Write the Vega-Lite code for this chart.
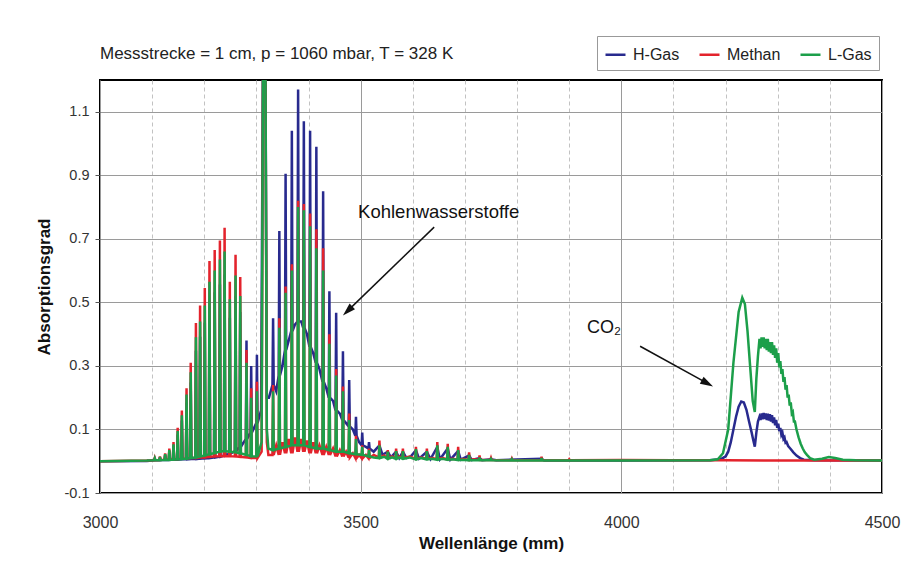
{
  "$schema": "https://vega.github.io/schema/vega-lite/v6.json",
  "width": 782,
  "height": 413,
  "autosize": {"type": "none"},
  "padding": {"left": 100, "top": 80, "right": 41, "bottom": 92},
  "background": "white",
  "config": {
    "font": "Liberation Sans",
    "view": {"stroke": "#000", "strokeWidth": 2}
  },
  "title": {
    "text": "Messstrecke = 1 cm, p = 1060 mbar, T = 328 K",
    "anchor": "start",
    "frame": "group",
    "offset": -40,
    "baseline": "alphabetic",
    "fontSize": 17,
    "fontWeight": "normal",
    "color": "#222"
  },
  "datasets": {
    "hgas": [
      {"x":3000,"y":0},{"x":3090,"y":0.001},
      {"x":3103.8,"y":0.003},{"x":3105,"y":0.008},{"x":3106.2,"y":0.003},
      {"x":3113.8,"y":0.003},{"x":3115,"y":0.012},{"x":3116.2,"y":0.003},
      {"x":3123.8,"y":0.004},{"x":3125,"y":0.02},{"x":3126.2,"y":0.004},
      {"x":3131.8,"y":0.004},{"x":3133,"y":0.032},{"x":3134.2,"y":0.004},
      {"x":3139.8,"y":0.005},{"x":3141,"y":0.048},{"x":3142.2,"y":0.005},
      {"x":3147.8,"y":0.005},{"x":3149,"y":0.084},{"x":3150.2,"y":0.005},
      {"x":3155.8,"y":0.006},{"x":3157,"y":0.128},{"x":3158.2,"y":0.006},
      {"x":3164.8,"y":0.006},{"x":3166,"y":0.184},{"x":3167.2,"y":0.006},
      {"x":3172.8,"y":0.007},{"x":3174,"y":0.248},{"x":3175.2,"y":0.007},
      {"x":3182.8,"y":0.007},{"x":3184,"y":0.348},{"x":3185.2,"y":0.007},
      {"x":3190.8,"y":0.008},{"x":3192,"y":0.392},{"x":3193.2,"y":0.008},
      {"x":3199.8,"y":0.009},{"x":3201,"y":0.436},{"x":3202.2,"y":0.009},
      {"x":3208.8,"y":0.01},{"x":3210,"y":0.504},{"x":3211.2,"y":0.01},
      {"x":3218.8,"y":0.012},{"x":3220,"y":0.532},{"x":3221.2,"y":0.012},
      {"x":3228.8,"y":0.014},{"x":3230,"y":0.556},{"x":3231.2,"y":0.014},
      {"x":3237.8,"y":0.018},{"x":3239,"y":0.588},{"x":3240.2,"y":0.018},
      {"x":3247.8,"y":0.024},{"x":3249,"y":0.452},{"x":3250.2,"y":0.024},
      {"x":3258.8,"y":0.032},{"x":3260,"y":0.52},{"x":3261.2,"y":0.032},
      {"x":3267.8,"y":0.045},{"x":3269,"y":0.47},{"x":3270.2,"y":0.045},
      {"x":3279.8,"y":0.07},{"x":3281,"y":0.38},{"x":3282.2,"y":0.07},
      {"x":3288.8,"y":0.09},{"x":3290,"y":0.3},{"x":3291.2,"y":0.09},
      {"x":3299.8,"y":0.12},{"x":3301,"y":0.335},{"x":3302.2,"y":0.12},
      {"x":3309,"y":0.16},{"x":3313,"y":1.4},{"x":3317,"y":1.4},{"x":3320,"y":0.2},{"x":3324,"y":0.2},
      {"x":3330.8,"y":0.24},{"x":3332,"y":0.45},{"x":3333.2,"y":0.24},{"x":3338,"y":0.22},
      {"x":3342.8,"y":0.27},{"x":3344,"y":0.725},{"x":3345.2,"y":0.27},{"x":3350,"y":0.3},
      {"x":3354.8,"y":0.35},{"x":3356,"y":0.905},{"x":3357.2,"y":0.35},{"x":3362,"y":0.38},
      {"x":3366.8,"y":0.41},{"x":3368,"y":1.04},{"x":3369.2,"y":0.41},{"x":3374,"y":0.43},
      {"x":3378.8,"y":0.44},{"x":3380,"y":1.17},{"x":3381.2,"y":0.44},{"x":3386,"y":0.44},
      {"x":3389.8,"y":0.42},{"x":3391,"y":1.07},{"x":3392.2,"y":0.42},{"x":3397,"y":0.4},
      {"x":3401.8,"y":0.36},{"x":3403,"y":1.04},{"x":3404.2,"y":0.36},{"x":3409,"y":0.34},
      {"x":3413.8,"y":0.31},{"x":3415,"y":0.99},{"x":3416.2,"y":0.31},{"x":3421,"y":0.29},
      {"x":3426.8,"y":0.25},{"x":3428,"y":0.85},{"x":3429.2,"y":0.25},{"x":3434,"y":0.23},
      {"x":3438.8,"y":0.2},{"x":3440,"y":0.535},{"x":3441.2,"y":0.2},{"x":3447,"y":0.19},
      {"x":3451.8,"y":0.16},{"x":3453,"y":0.467},{"x":3454.2,"y":0.16},{"x":3460,"y":0.15},
      {"x":3464.8,"y":0.13},{"x":3466,"y":0.346},{"x":3467.2,"y":0.13},{"x":3472,"y":0.12},
      {"x":3476.8,"y":0.11},{"x":3478,"y":0.256},{"x":3479.2,"y":0.11},{"x":3485,"y":0.1},
      {"x":3489.8,"y":0.08},{"x":3491,"y":0.14},{"x":3492.2,"y":0.08},{"x":3497,"y":0.06},
      {"x":3501.8,"y":0.05},{"x":3503,"y":0.09},{"x":3504.2,"y":0.05},{"x":3510,"y":0.045},
      {"x":3514.8,"y":0.04},{"x":3516,"y":0.06},{"x":3517.2,"y":0.04},{"x":3525,"y":0.03},
      {"x":3536,"y":0.05},{"x":3542,"y":0.02},{"x":3552,"y":0.03},{"x":3558,"y":0.012},{"x":3568,"y":0.03},{"x":3574,"y":0.01},{"x":3581,"y":0.03},{"x":3588,"y":0.01},{"x":3596,"y":0.015},{"x":3606,"y":0.035},{"x":3612,"y":0.008},{"x":3627,"y":0.03},{"x":3634,"y":0.007},{"x":3647,"y":0.045},{"x":3652,"y":0.006},{"x":3667,"y":0.04},{"x":3672,"y":0.005},{"x":3687,"y":0.032},{"x":3692,"y":0.005},{"x":3708,"y":0.018},{"x":3713,"y":0.004},{"x":3728,"y":0.01},{"x":3733,"y":0.003},{"x":3750,"y":0.006},{"x":3760,"y":0.003},{"x":3847,"y":0.008},{"x":3852,"y":0.002},{"x":4000,"y":0.002},{"x":4170,"y":0.003},
      {"x":4190,"y":0.006},{"x":4200,"y":0.015},{"x":4205,"y":0.03},{"x":4210,"y":0.06},{"x":4215,"y":0.1},{"x":4220,"y":0.14},{"x":4225,"y":0.172},{"x":4230,"y":0.188},{"x":4235,"y":0.185},{"x":4240,"y":0.162},{"x":4245,"y":0.125},{"x":4250,"y":0.09},{"x":4253,"y":0.067},{"x":4256,"y":0.046},{"x":4259,"y":0.09},{"x":4262,"y":0.125},{"x":4265,"y":0.14},{"x":4267,"y":0.13},{"x":4269,"y":0.15},{"x":4271,"y":0.132},{"x":4273,"y":0.152},{"x":4275,"y":0.133},{"x":4277,"y":0.15},{"x":4279,"y":0.13},{"x":4281,"y":0.15},{"x":4283,"y":0.128},{"x":4285,"y":0.148},{"x":4287,"y":0.125},{"x":4289,"y":0.145},{"x":4291,"y":0.12},{"x":4293,"y":0.138},{"x":4295,"y":0.113},{"x":4297,"y":0.13},{"x":4299,"y":0.105},{"x":4301,"y":0.118},{"x":4303,"y":0.095},{"x":4305,"y":0.105},{"x":4307,"y":0.083},{"x":4309,"y":0.09},{"x":4311,"y":0.07},{"x":4313,"y":0.075},{"x":4315,"y":0.058},{"x":4317,"y":0.06},{"x":4320,"y":0.048},{"x":4324,"y":0.04},{"x":4330,"y":0.028},{"x":4336,"y":0.018},{"x":4343,"y":0.01},{"x":4350,"y":0.005},{"x":4370,"y":0.003},{"x":4500,"y":0.002}
    ],
    "methan": [
      {"x":3000,"y":0},{"x":3090,"y":0.002},
      {"x":3103.8,"y":0.003},{"x":3105,"y":0.01},{"x":3106.2,"y":0.003},
      {"x":3113.8,"y":0.004},{"x":3115,"y":0.015},{"x":3116.2,"y":0.004},
      {"x":3123.8,"y":0.005},{"x":3125,"y":0.025},{"x":3126.2,"y":0.005},
      {"x":3131.8,"y":0.005},{"x":3133,"y":0.04},{"x":3134.2,"y":0.005},
      {"x":3139.8,"y":0.006},{"x":3141,"y":0.06},{"x":3142.2,"y":0.006},
      {"x":3147.8,"y":0.007},{"x":3149,"y":0.105},{"x":3150.2,"y":0.007},
      {"x":3155.8,"y":0.008},{"x":3157,"y":0.16},{"x":3158.2,"y":0.008},
      {"x":3164.8,"y":0.009},{"x":3166,"y":0.23},{"x":3167.2,"y":0.009},
      {"x":3172.8,"y":0.01},{"x":3174,"y":0.31},{"x":3175.2,"y":0.01},
      {"x":3182.8,"y":0.01},{"x":3184,"y":0.435},{"x":3185.2,"y":0.01},
      {"x":3190.8,"y":0.012},{"x":3192,"y":0.49},{"x":3193.2,"y":0.012},
      {"x":3199.8,"y":0.012},{"x":3201,"y":0.545},{"x":3202.2,"y":0.012},
      {"x":3208.8,"y":0.014},{"x":3210,"y":0.63},{"x":3211.2,"y":0.014},
      {"x":3218.8,"y":0.015},{"x":3220,"y":0.665},{"x":3221.2,"y":0.015},
      {"x":3228.8,"y":0.016},{"x":3230,"y":0.695},{"x":3231.2,"y":0.016},
      {"x":3237.8,"y":0.016},{"x":3239,"y":0.735},{"x":3240.2,"y":0.016},
      {"x":3247.8,"y":0.016},{"x":3249,"y":0.565},{"x":3250.2,"y":0.016},
      {"x":3258.8,"y":0.015},{"x":3260,"y":0.65},{"x":3261.2,"y":0.015},
      {"x":3267.8,"y":0.014},{"x":3269,"y":0.58},{"x":3270.2,"y":0.014},
      {"x":3279.8,"y":0.012},{"x":3281,"y":0.35},{"x":3282.2,"y":0.012},
      {"x":3288.8,"y":0.01},{"x":3290,"y":0.23},{"x":3291.2,"y":0.01},
      {"x":3299.8,"y":0.01},{"x":3301,"y":0.25},{"x":3302.2,"y":0.01},
      {"x":3310,"y":0.03},{"x":3313,"y":1.4},{"x":3317,"y":1.4},{"x":3320,"y":0.06},{"x":3323,"y":0.02},
      {"x":3330.8,"y":0.02},{"x":3332,"y":0.24},{"x":3333.2,"y":0.02},{"x":3338,"y":0.05},
      {"x":3342.8,"y":0.02},{"x":3344,"y":0.45},{"x":3345.2,"y":0.02},{"x":3350,"y":0.06},
      {"x":3354.8,"y":0.025},{"x":3356,"y":0.55},{"x":3357.2,"y":0.025},{"x":3362,"y":0.07},
      {"x":3366.8,"y":0.025},{"x":3368,"y":0.62},{"x":3369.2,"y":0.025},{"x":3374,"y":0.075},
      {"x":3378.8,"y":0.03},{"x":3380,"y":0.82},{"x":3381.2,"y":0.03},{"x":3386,"y":0.07},
      {"x":3389.8,"y":0.03},{"x":3391,"y":0.81},{"x":3392.2,"y":0.03},{"x":3397,"y":0.065},
      {"x":3401.8,"y":0.025},{"x":3403,"y":0.78},{"x":3404.2,"y":0.025},{"x":3409,"y":0.06},
      {"x":3413.8,"y":0.025},{"x":3415,"y":0.73},{"x":3416.2,"y":0.025},{"x":3421,"y":0.05},
      {"x":3426.8,"y":0.02},{"x":3428,"y":0.67},{"x":3429.2,"y":0.02},{"x":3434,"y":0.045},
      {"x":3438.8,"y":0.02},{"x":3440,"y":0.4},{"x":3441.2,"y":0.02},{"x":3447,"y":0.04},
      {"x":3451.8,"y":0.015},{"x":3453,"y":0.29},{"x":3454.2,"y":0.015},{"x":3460,"y":0.035},
      {"x":3464.8,"y":0.015},{"x":3466,"y":0.235},{"x":3467.2,"y":0.015},{"x":3472,"y":0.03},
      {"x":3476.8,"y":0.012},{"x":3478,"y":0.15},{"x":3479.2,"y":0.012},{"x":3485,"y":0.025},
      {"x":3489.8,"y":0.01},{"x":3491,"y":0.08},{"x":3492.2,"y":0.01},{"x":3497,"y":0.02},
      {"x":3501.8,"y":0.01},{"x":3503,"y":0.05},{"x":3504.2,"y":0.01},{"x":3510,"y":0.02},
      {"x":3514.8,"y":0.01},{"x":3516,"y":0.04},{"x":3517.2,"y":0.01},{"x":3525,"y":0.02},
      {"x":3534.8,"y":0.012},{"x":3536,"y":0.065},{"x":3537.2,"y":0.012},{"x":3545,"y":0.018},
      {"x":3550.8,"y":0.01},{"x":3552,"y":0.035},{"x":3553.2,"y":0.01},{"x":3560,"y":0.015},
      {"x":3566.8,"y":0.01},{"x":3568,"y":0.04},{"x":3569.2,"y":0.01},{"x":3574,"y":0.015},
      {"x":3579.8,"y":0.01},{"x":3581,"y":0.04},{"x":3582.2,"y":0.01},{"x":3594,"y":0.015},
      {"x":3604.8,"y":0.008},{"x":3606,"y":0.045},{"x":3607.2,"y":0.008},{"x":3616,"y":0.012},
      {"x":3625.8,"y":0.008},{"x":3627,"y":0.04},{"x":3628.2,"y":0.008},{"x":3637,"y":0.01},
      {"x":3645.8,"y":0.007},{"x":3647,"y":0.06},{"x":3648.2,"y":0.007},{"x":3657,"y":0.01},
      {"x":3665.8,"y":0.006},{"x":3667,"y":0.055},{"x":3668.2,"y":0.006},{"x":3677,"y":0.008},
      {"x":3685.8,"y":0.005},{"x":3687,"y":0.045},{"x":3688.2,"y":0.005},{"x":3698,"y":0.007},
      {"x":3706.8,"y":0.004},{"x":3708,"y":0.028},{"x":3709.2,"y":0.004},{"x":3718,"y":0.006},
      {"x":3726.8,"y":0.004},{"x":3728,"y":0.018},{"x":3729.2,"y":0.004},
      {"x":3748.8,"y":0.004},{"x":3750,"y":0.01},{"x":3751.2,"y":0.004},
      {"x":3788.8,"y":0.003},{"x":3790,"y":0.008},{"x":3791.2,"y":0.003},
      {"x":3845.8,"y":0.003},{"x":3847,"y":0.014},{"x":3848.2,"y":0.003},
      {"x":3898.8,"y":0.003},{"x":3900,"y":0.006},{"x":3901.2,"y":0.003},
      {"x":4000,"y":0.004},{"x":4100,"y":0.003},{"x":4200,"y":0.003},{"x":4300,"y":0.002},{"x":4500,"y":0.002}
    ],
    "lgas": [
      {"x":3000,"y":0},{"x":3090,"y":0.002},
      {"x":3103.8,"y":0.003},{"x":3105,"y":0.009},{"x":3106.2,"y":0.003},
      {"x":3113.8,"y":0.003},{"x":3115,"y":0.013},{"x":3116.2,"y":0.003},
      {"x":3123.8,"y":0.004},{"x":3125,"y":0.022},{"x":3126.2,"y":0.004},
      {"x":3131.8,"y":0.004},{"x":3133,"y":0.035},{"x":3134.2,"y":0.004},
      {"x":3139.8,"y":0.005},{"x":3141,"y":0.053},{"x":3142.2,"y":0.005},
      {"x":3147.8,"y":0.006},{"x":3149,"y":0.095},{"x":3150.2,"y":0.006},
      {"x":3155.8,"y":0.007},{"x":3157,"y":0.145},{"x":3158.2,"y":0.007},
      {"x":3164.8,"y":0.008},{"x":3166,"y":0.21},{"x":3167.2,"y":0.008},
      {"x":3172.8,"y":0.01},{"x":3174,"y":0.28},{"x":3175.2,"y":0.01},
      {"x":3182.8,"y":0.012},{"x":3184,"y":0.39},{"x":3185.2,"y":0.012},
      {"x":3190.8,"y":0.015},{"x":3192,"y":0.44},{"x":3193.2,"y":0.015},
      {"x":3199.8,"y":0.018},{"x":3201,"y":0.49},{"x":3202.2,"y":0.018},
      {"x":3208.8,"y":0.022},{"x":3210,"y":0.565},{"x":3211.2,"y":0.022},
      {"x":3218.8,"y":0.026},{"x":3220,"y":0.6},{"x":3221.2,"y":0.026},
      {"x":3228.8,"y":0.03},{"x":3230,"y":0.635},{"x":3231.2,"y":0.03},
      {"x":3237.8,"y":0.032},{"x":3239,"y":0.66},{"x":3240.2,"y":0.032},
      {"x":3247.8,"y":0.03},{"x":3249,"y":0.51},{"x":3250.2,"y":0.03},
      {"x":3258.8,"y":0.028},{"x":3260,"y":0.585},{"x":3261.2,"y":0.028},
      {"x":3267.8,"y":0.025},{"x":3269,"y":0.52},{"x":3270.2,"y":0.025},
      {"x":3279.8,"y":0.02},{"x":3281,"y":0.31},{"x":3282.2,"y":0.02},
      {"x":3288.8,"y":0.016},{"x":3290,"y":0.2},{"x":3291.2,"y":0.016},
      {"x":3299.8,"y":0.015},{"x":3301,"y":0.22},{"x":3302.2,"y":0.015},
      {"x":3310,"y":0.06},{"x":3313,"y":1.4},{"x":3317,"y":1.4},{"x":3320,"y":0.1},{"x":3323,"y":0.04},
      {"x":3330.8,"y":0.035},{"x":3332,"y":0.22},{"x":3333.2,"y":0.035},
      {"x":3342.8,"y":0.04},{"x":3344,"y":0.42},{"x":3345.2,"y":0.04},
      {"x":3354.8,"y":0.045},{"x":3356,"y":0.53},{"x":3357.2,"y":0.045},
      {"x":3366.8,"y":0.05},{"x":3368,"y":0.6},{"x":3369.2,"y":0.05},
      {"x":3378.8,"y":0.05},{"x":3380,"y":0.8},{"x":3381.2,"y":0.05},
      {"x":3389.8,"y":0.05},{"x":3391,"y":0.79},{"x":3392.2,"y":0.05},
      {"x":3401.8,"y":0.045},{"x":3403,"y":0.74},{"x":3404.2,"y":0.045},
      {"x":3413.8,"y":0.04},{"x":3415,"y":0.67},{"x":3416.2,"y":0.04},
      {"x":3426.8,"y":0.04},{"x":3428,"y":0.6},{"x":3429.2,"y":0.04},
      {"x":3438.8,"y":0.035},{"x":3440,"y":0.37},{"x":3441.2,"y":0.035},
      {"x":3451.8,"y":0.03},{"x":3453,"y":0.27},{"x":3454.2,"y":0.03},
      {"x":3464.8,"y":0.03},{"x":3466,"y":0.22},{"x":3467.2,"y":0.03},
      {"x":3476.8,"y":0.025},{"x":3478,"y":0.13},{"x":3479.2,"y":0.025},
      {"x":3489.8,"y":0.022},{"x":3491,"y":0.07},{"x":3492.2,"y":0.022},
      {"x":3501.8,"y":0.02},{"x":3503,"y":0.045},{"x":3504.2,"y":0.02},
      {"x":3514.8,"y":0.015},{"x":3516,"y":0.035},{"x":3517.2,"y":0.015},{"x":3525,"y":0.012},
      {"x":3534.8,"y":0.01},{"x":3536,"y":0.05},{"x":3537.2,"y":0.01},{"x":3545,"y":0.014},
      {"x":3550.8,"y":0.008},{"x":3552,"y":0.03},{"x":3553.2,"y":0.008},{"x":3560,"y":0.012},
      {"x":3566.8,"y":0.008},{"x":3568,"y":0.032},{"x":3569.2,"y":0.008},{"x":3574,"y":0.012},
      {"x":3579.8,"y":0.008},{"x":3581,"y":0.032},{"x":3582.2,"y":0.008},{"x":3594,"y":0.012},
      {"x":3604.8,"y":0.006},{"x":3606,"y":0.038},{"x":3607.2,"y":0.006},{"x":3616,"y":0.01},
      {"x":3625.8,"y":0.006},{"x":3627,"y":0.032},{"x":3628.2,"y":0.006},{"x":3637,"y":0.008},
      {"x":3645.8,"y":0.005},{"x":3647,"y":0.05},{"x":3648.2,"y":0.005},{"x":3657,"y":0.008},
      {"x":3665.8,"y":0.005},{"x":3667,"y":0.045},{"x":3668.2,"y":0.005},{"x":3677,"y":0.006},
      {"x":3685.8,"y":0.004},{"x":3687,"y":0.035},{"x":3688.2,"y":0.004},{"x":3698,"y":0.005},
      {"x":3706.8,"y":0.003},{"x":3708,"y":0.02},{"x":3709.2,"y":0.003},
      {"x":3726.8,"y":0.003},{"x":3728,"y":0.012},{"x":3729.2,"y":0.003},
      {"x":3748.8,"y":0.003},{"x":3750,"y":0.007},{"x":3751.2,"y":0.003},
      {"x":3788.8,"y":0.002},{"x":3790,"y":0.006},{"x":3791.2,"y":0.002},
      {"x":3845.8,"y":0.002},{"x":3847,"y":0.01},{"x":3848.2,"y":0.002},
      {"x":4000,"y":0.002},{"x":4170,"y":0.003},
      {"x":4185,"y":0.006},{"x":4195,"y":0.025},{"x":4205,"y":0.1},{"x":4215,"y":0.31},{"x":4225,"y":0.47},{"x":4232,"y":0.515},{"x":4237,"y":0.495},{"x":4242,"y":0.41},{"x":4247,"y":0.3},{"x":4252,"y":0.19},{"x":4256,"y":0.155},{"x":4259,"y":0.26},{"x":4262,"y":0.33},{"x":4265,"y":0.385},{"x":4267,"y":0.355},{"x":4269,"y":0.39},{"x":4271,"y":0.36},{"x":4273,"y":0.39},{"x":4275,"y":0.355},{"x":4277,"y":0.385},{"x":4279,"y":0.35},{"x":4281,"y":0.385},{"x":4283,"y":0.345},{"x":4285,"y":0.375},{"x":4287,"y":0.34},{"x":4289,"y":0.375},{"x":4291,"y":0.335},{"x":4293,"y":0.365},{"x":4295,"y":0.325},{"x":4297,"y":0.355},{"x":4299,"y":0.31},{"x":4301,"y":0.34},{"x":4303,"y":0.295},{"x":4305,"y":0.315},{"x":4307,"y":0.275},{"x":4309,"y":0.29},{"x":4311,"y":0.25},{"x":4313,"y":0.265},{"x":4315,"y":0.225},{"x":4317,"y":0.24},{"x":4319,"y":0.2},{"x":4321,"y":0.21},{"x":4323,"y":0.175},{"x":4325,"y":0.185},{"x":4327,"y":0.15},{"x":4329,"y":0.155},{"x":4331,"y":0.125},{"x":4333,"y":0.125},{"x":4336,"y":0.1},{"x":4340,"y":0.075},{"x":4344,"y":0.055},{"x":4348,"y":0.04},{"x":4352,"y":0.028},{"x":4356,"y":0.02},{"x":4362,"y":0.01},{"x":4370,"y":0.005},{"x":4385,"y":0.008},{"x":4398,"y":0.013},{"x":4410,"y":0.01},{"x":4425,"y":0.005},{"x":4450,"y":0.003},{"x":4500,"y":0.002}
    ]
  },
  "layer": [
    {
      "data": {"name": "hgas"},
      "mark": {"type": "line", "clip": true, "strokeWidth": 2.5},
      "encoding": {
        "x": {
          "field": "x", "type": "quantitative",
          "scale": {"domain": [3000, 4500], "nice": false, "zero": false},
          "axis": {
            "title": "Wellenlänge (mm)",
            "values": [3000,3100,3200,3300,3400,3500,3600,3700,3800,3900,4000,4100,4200,4300,4400,4500],
            "labelExpr": "datum.value % 500 === 0 ? format(datum.value, 'd') : ''",
            "grid": true,
            "gridColor": {"condition": {"test": "datum.value % 500 === 0", "value": "#9a9a9a"}, "value": "#c2c2c2"},
            "gridDash": {"condition": {"test": "datum.value % 500 === 0", "value": []}, "value": [4, 3]},
            "gridWidth": 1,
            "ticks": false,
            "domain": false,
            "labelPadding": 21,
            "labelFontSize": 16,
            "labelColor": "#333",
            "labelFlush": false,
            "labelOverlap": false,
            "titleFontSize": 17,
            "titleFontWeight": "bold",
            "titleColor": "#111",
            "titlePadding": 5
          }
        },
        "y": {
          "field": "y", "type": "quantitative",
          "scale": {"domain": [-0.1, 1.2], "nice": false, "zero": false},
          "axis": {
            "title": "Absorptionsgrad",
            "values": [-0.1,0,0.1,0.2,0.3,0.4,0.5,0.6,0.7,0.8,0.9,1,1.1],
            "labelExpr": "abs(round(datum.value*10)) % 2 === 1 ? (datum.value < 0 ? '-0.1' : format(datum.value, '.1f')) : ''",
            "grid": true,
            "gridColor": {"condition": {"test": "abs(round(datum.value*10)) % 2 === 1", "value": "#9a9a9a"}, "value": "#c2c2c2"},
            "gridDash": {"condition": {"test": "abs(round(datum.value*10)) % 2 === 1", "value": []}, "value": [4, 3]},
            "tickSize": 5,
            "tickColor": "#555",
            "tickOpacity": {"condition": {"test": "abs(round(datum.value*10)) % 2 === 1", "value": 1}, "value": 0},
            "domain": false,
            "labelPadding": 6,
            "labelFontSize": 14.5,
            "labelColor": "#333",
            "labelOverlap": false,
            "titleFontSize": 17,
            "titleFontWeight": "bold",
            "titleColor": "#111",
            "titlePadding": 11
          }
        },
        "color": {
          "datum": "H-Gas",
          "scale": {"domain": ["H-Gas", "Methan", "L-Gas"], "range": ["#282a8e", "#e3232c", "#1c9f4a"]},
          "legend": {
            "title": null,
            "orient": "none",
            "legendX": 497,
            "legendY": -44,
            "direction": "horizontal",
            "symbolType": "stroke",
            "symbolSize": 400,
            "symbolStrokeWidth": 2.5,
            "labelFontSize": 16,
            "labelColor": "#222",
            "labelOffset": 6,
            "columnPadding": 14,
            "padding": 7,
            "fillColor": "white",
            "strokeColor": "#999"
          }
        }
      }
    },
    {
      "data": {"name": "methan"},
      "mark": {"type": "line", "clip": true, "strokeWidth": 2.5},
      "encoding": {
        "x": {"field": "x", "type": "quantitative"},
        "y": {"field": "y", "type": "quantitative"},
        "color": {"datum": "Methan"}
      }
    },
    {
      "data": {"name": "lgas"},
      "mark": {"type": "line", "clip": true, "strokeWidth": 2.5},
      "encoding": {
        "x": {"field": "x", "type": "quantitative"},
        "y": {"field": "y", "type": "quantitative"},
        "color": {"datum": "L-Gas"}
      }
    },
    {
      "data": {"values": [{}]},
      "mark": {"type": "text", "text": "Kohlenwasserstoffe", "align": "left", "baseline": "middle", "fontSize": 18.5, "color": "#111"},
      "encoding": {
        "x": {"datum": 3495, "type": "quantitative"},
        "y": {"datum": 0.784, "type": "quantitative"}
      }
    },
    {
      "data": {"values": [{}]},
      "mark": {"type": "text", "text": "CO₂", "align": "left", "baseline": "middle", "fontSize": 18, "color": "#111"},
      "encoding": {
        "x": {"datum": 3934, "type": "quantitative"},
        "y": {"datum": 0.42, "type": "quantitative"}
      }
    },
    {
      "data": {"values": [{}]},
      "mark": {"type": "rule", "strokeWidth": 1.5, "color": "#111"},
      "encoding": {
        "x": {"datum": 3641, "type": "quantitative"},
        "y": {"datum": 0.737, "type": "quantitative"},
        "x2": {"datum": 3478},
        "y2": {"datum": 0.478}
      }
    },
    {
      "data": {"values": [{}]},
      "mark": {"type": "point", "shape": "M0,0L-0.6,2L0.6,2Z", "filled": true, "size": 169, "angle": 226, "color": "#111", "opacity": 1},
      "encoding": {
        "x": {"datum": 3466, "type": "quantitative"},
        "y": {"datum": 0.459, "type": "quantitative"}
      }
    },
    {
      "data": {"values": [{}]},
      "mark": {"type": "rule", "strokeWidth": 1.5, "color": "#111"},
      "encoding": {
        "x": {"datum": 4036, "type": "quantitative"},
        "y": {"datum": 0.362, "type": "quantitative"},
        "x2": {"datum": 4160},
        "y2": {"datum": 0.25}
      }
    },
    {
      "data": {"values": [{}]},
      "mark": {"type": "point", "shape": "M0,0L-0.6,2L0.6,2Z", "filled": true, "size": 169, "angle": 119, "color": "#111", "opacity": 1},
      "encoding": {
        "x": {"datum": 4176, "type": "quantitative"},
        "y": {"datum": 0.235, "type": "quantitative"}
      }
    }
  ]
}
